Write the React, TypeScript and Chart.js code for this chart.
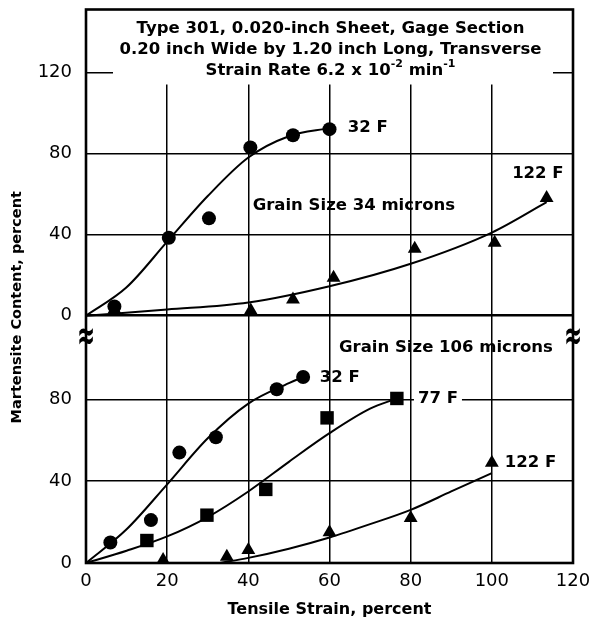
import { useEffect, useRef } from "react";
import { Chart, registerables } from "chart.js";
Chart.register(...registerables);

// ---- axes ----
const xTickValues = [0, 20, 40, 60, 80, 100, 120];
const upperTickValues = [0, 40, 80, 120];
const lowerTickValues = [0, 40, 80];
const xMax = 120;
const upperMax = 151;
const lowerMax = 121;

const xAxisTitle = "Tensile Strain, percent";
const yAxisTitle = "Martensite Content, percent";
const titleLine1 = "Type 301, 0.020-inch Sheet, Gage Section";
const titleLine2 = "0.20 inch Wide by 1.20 inch Long, Transverse";
const titleLine3 = ["Strain Rate 6.2 x 10", "-2", " min", "-1"];

// ---- Grain size 34 microns (upper panel) ----
const g34_32F_pts = [[7, 4.5], [20.4, 38.4], [30.3, 48], [40.5, 83], [51, 89], [60, 92]];
const g34_32F_fit = [[0, 0], [10, 14], [20, 36.5], [30, 59], [40, 78], [50, 88.5], [60, 92.5]];
const g34_122F_pts = [[7, 3], [40.6, 2.5], [51, 8], [61, 18.7], [81, 33], [100.7, 36], [113.5, 58]];
const g34_122F_fit = [[0, 0], [20, 3], [40, 6.5], [60, 14.5], [80, 25.6], [100, 41], [113.5, 56]];

// ---- Grain size 106 microns (lower panel) ----
const g106_32F_pts = [[6, 10], [16, 21], [23, 54], [32, 61.5], [47, 85], [53.5, 91]];
const g106_32F_fit = [[0, 0], [10, 16.5], [20, 38.5], [30, 61], [40, 78], [50, 88], [53.5, 91]];
const g106_77F_pts = [[15, 11], [29.8, 23.4], [44.3, 36], [59.4, 71], [76.6, 80.5]];
const g106_77F_fit = [[0, 0], [10, 6], [20, 13], [30, 22.5], [40, 35], [50, 49.5], [60, 63.5], [70, 75.5], [76.6, 80.5]];
const g106_122F_pts = [[19, 1.5], [34.7, 3], [40, 6.3], [60, 15], [80, 22], [100, 49]];
const g106_122F_fit = [[33, 0], [40, 2.5], [50, 7], [60, 12.5], [70, 19], [80, 26], [90, 35], [100, 44]];

// ---- annotations (data coordinates) ----
const upperLabels = [
  { text: "32 F", x: 64.5, y: 92.6, align: "left" },
  { text: "122 F", x: 105, y: 70, align: "left" },
  { text: "Grain Size 34 microns", x: 66, y: 54, align: "center" },
];
const lowerLabels = [
  { text: "Grain Size 106 microns", x: 88.7, y: 105.4, align: "center" },
  { text: "32 F", x: 57.6, y: 90.7, align: "left" },
  { text: "77 F", x: 81.8, y: 80.5, align: "left", bg: true },
  { text: "122 F", x: 103.2, y: 49.3, align: "left" },
];
const breakY = 110; // lower-panel value where the axis break sits

const BOLD = '"DejaVu Sans", sans-serif';
const toXY = (a: number[][]) => a.map(([x, y]) => ({ x, y }));

function fit(data: number[][], axis: string) {
  return {
    type: "line" as const,
    data: toXY(data),
    yAxisID: axis,
    borderColor: "#000",
    borderWidth: 2,
    pointRadius: 0,
    cubicInterpolationMode: "monotone" as const,
    fill: false,
    clip: false as const,
  };
}
function pts(data: number[][], axis: string, style: string, r: number) {
  return {
    type: "line" as const,
    data: toXY(data),
    yAxisID: axis,
    showLine: false,
    pointStyle: style,
    pointRadius: r,
    pointBackgroundColor: "#000",
    pointBorderColor: "#000",
    pointBorderWidth: 0,
    clip: false as const,
  };
}

const noPad = (s: any) => {
  s.paddingTop = 0;
  s.paddingBottom = 0;
  s.paddingLeft = 0;
  s.paddingRight = 0;
};

const overlay = {
  id: "overlay",
  beforeDatasetsDraw(chart: any) {
    const { ctx, chartArea: a } = chart;
    ctx.save();
    ctx.fillStyle = "#fff";
    ctx.fillRect(a.left + 27, a.top, a.right - a.left - 47, 75);
    ctx.fillStyle = "#000";
    ctx.textAlign = "center";
    ctx.textBaseline = "middle";
    ctx.font = `bold 16.5px ${BOLD}`;
    const cx = (a.left + a.right) / 2 + 1;
    ctx.fillText(titleLine1, cx, a.top + 19);
    ctx.fillText(titleLine2, cx, a.top + 40);
    // third line with superscripts
    const big = `bold 16.5px ${BOLD}`;
    const small = `bold 11px ${BOLD}`;
    const widths = titleLine3.map((t, i) => {
      ctx.font = i % 2 ? small : big;
      return ctx.measureText(t).width;
    });
    const total = widths.reduce((s, w) => s + w, 0);
    let x = cx - total / 2;
    ctx.textAlign = "left";
    titleLine3.forEach((t, i) => {
      ctx.font = i % 2 ? small : big;
      ctx.fillText(t, x, a.top + 61 - (i % 2 ? 6 : 0));
      x += widths[i];
    });
    ctx.restore();
  },
  afterDatasetsDraw(chart: any) {
    const { ctx, chartArea: a, scales } = chart;
    ctx.save();
    // frame
    ctx.strokeStyle = "#000";
    ctx.lineWidth = 2.6;
    ctx.strokeRect(a.left, a.top, a.right - a.left, a.bottom - a.top);
    // labels
    ctx.font = `bold 16.5px ${BOLD}`;
    ctx.textBaseline = "middle";
    const draw = (l: any, ys: any) => {
      const px = scales.x.getPixelForValue(l.x);
      const py = ys.getPixelForValue(l.y);
      ctx.textAlign = l.align;
      if (l.bg) {
        const w = ctx.measureText(l.text).width;
        ctx.fillStyle = "#fff";
        ctx.fillRect(px - 4, py - 9, w + 8, 18);
      }
      ctx.fillStyle = "#000";
      ctx.fillText(l.text, px, py);
    };
    upperLabels.forEach((l) => draw(l, scales.yUp));
    lowerLabels.forEach((l) => draw(l, scales.yLow));
    // axis breaks
    const by = scales.yLow.getPixelForValue(breakY);
    ctx.font = `bold 24px ${BOLD}`;
    ctx.textAlign = "center";
    [a.left, a.right].forEach((bx) => {
      ctx.save();
      ctx.translate(bx, by);
      ctx.scale(0.9, 1.7);
      ctx.fillText("≈", 0, 0);
      ctx.restore();
    });
    // y title
    ctx.font = `bold 14.5px ${BOLD}`;
    ctx.translate(17, (a.top + a.bottom) / 2 + 21);
    ctx.rotate(-Math.PI / 2);
    ctx.fillText(yAxisTitle, 0, 0);
    ctx.restore();
  },
};

export default function App() {
  const ref = useRef<HTMLCanvasElement>(null);
  useEffect(() => {
    const tickFont = { family: '"DejaVu Sans", sans-serif', size: 18 };
    const grid = { color: "#000", lineWidth: 1.5, drawTicks: false };
    const chart = new Chart(ref.current!, {
      type: "line",
      data: {
        datasets: [
          fit(g34_32F_fit, "yUp"),
          fit(g34_122F_fit, "yUp"),
          fit(g106_32F_fit, "yLow"),
          fit(g106_77F_fit, "yLow"),
          fit(g106_122F_fit, "yLow"),
          pts(g34_32F_pts, "yUp", "circle", 7),
          pts(g34_122F_pts, "yUp", "triangle", 8),
          pts(g106_32F_pts, "yLow", "circle", 7),
          pts(g106_77F_pts, "yLow", "rect", 9.5),
          pts(g106_122F_pts, "yLow", "triangle", 8),
        ] as any,
      },
      options: {
        animation: false,
        responsive: true,
        maintainAspectRatio: false,
        layout: { padding: { top: 8, right: 18, left: 0, bottom: 0 } },
        plugins: { legend: { display: false }, tooltip: { enabled: false } },
        scales: {
          x: {
            type: "linear",
            min: 0,
            max: xMax,
            afterBuildTicks: (s: any) => { s.ticks = xTickValues.map((v) => ({ value: v })); },
            afterFit: (s: any) => { s.height = 61; noPad(s); },
            ticks: { font: tickFont, color: "#000", padding: 8, maxRotation: 0 },
            grid,
            border: { display: false },
            title: { display: true, text: xAxisTitle, color: "#000", font: { family: '"DejaVu Sans", sans-serif', size: 16, weight: "bold" }, padding: { top: 0, bottom: 5 } },
          },
          yLow: {
            type: "linear",
            position: "left",
            stack: "panels",
            stackWeight: 248,
            min: 0,
            max: lowerMax,
            afterBuildTicks: (s: any) => { s.ticks = lowerTickValues.map((v) => ({ value: v })); },
            afterFit: (s: any) => { s.width = 86; noPad(s); },
            ticks: { font: tickFont, color: "#000", padding: 14 },
            grid,
            border: { display: false },
          },
          yUp: {
            type: "linear",
            position: "left",
            stack: "panels",
            stackWeight: 307,
            min: 0,
            max: upperMax,
            afterBuildTicks: (s: any) => { s.ticks = upperTickValues.map((v) => ({ value: v })); },
            afterFit: (s: any) => { s.width = 86; noPad(s); },
            ticks: { font: tickFont, color: "#000", padding: 14 },
            grid: { ...grid, lineWidth: (c: any) => (c.tick && c.tick.value === 0 ? 2.6 : 1.5) },
            border: { display: false },
          },
        } as any,
      },
      plugins: [overlay],
    });
    return () => chart.destroy();
  }, []);
  return (
    <div style={{ position: "fixed", left: 0, top: 0, width: 591, height: 624, background: "#fff" }}>
      <canvas ref={ref} />
    </div>
  );
}
